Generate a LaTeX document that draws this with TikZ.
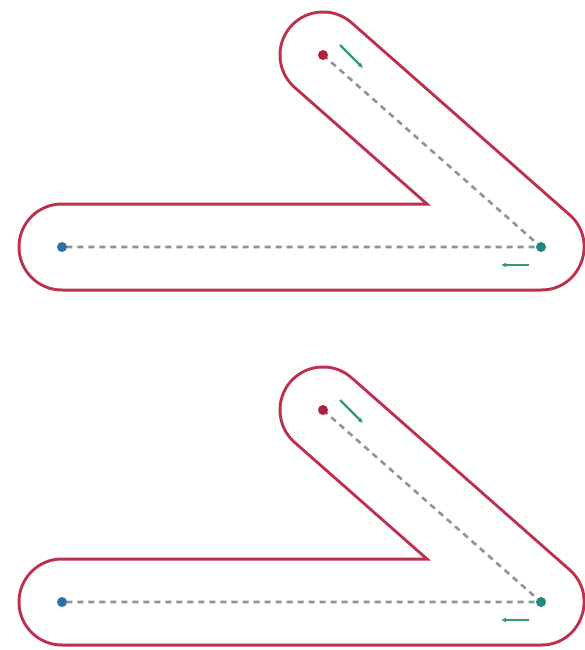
\documentclass[tikz,border=0pt]{standalone}
\usetikzlibrary{arrows.meta,calc}
\definecolor{rimred}{HTML}{BE2F4E}
\definecolor{trailgray}{HTML}{8C9399}
\definecolor{dotred}{HTML}{B3203F}
\definecolor{dotteal}{HTML}{1F8A7D}
\definecolor{dotblue}{HTML}{2F6EA8}
\definecolor{movegreen}{HTML}{2F9C6C}

\begin{document}
\begin{tikzpicture}[x=1pt,y=-1pt,>=Latex,
  rim/.style={line width=89pt,color=rimred,line cap=round,line join=round},
  hollow/.style={line width=83pt,color=white,line cap=round,line join=round},
  trail/.style={line width=2.6pt,color=trailgray,dash pattern=on 6pt off 5pt},
  dot/.style={circle,inner sep=0pt,minimum size=10pt},
  hint/.style={-{Latex[length=5pt,width=5pt]},line width=2.2pt,color=movegreen}]
  \useasboundingbox (0,0) rectangle (584,650);
  \foreach \dy/\id in {0/a,355/b}{
    \coordinate (\id-start) at (323,55+\dy);
    \coordinate (\id-bend) at (541,247+\dy);
    \coordinate (\id-end) at (62,247+\dy);
    % outline of the wide stroke
    \draw[rim] (\id-start) -- (\id-bend) -- (\id-end);
    \draw[hollow] (\id-start) -- (\id-bend) -- (\id-end);
    \draw[trail] (\id-start) -- (\id-bend) -- (\id-end);
    \node[dot,fill=dotred] (\id-s) at (\id-start) {};
    \node[dot,fill=dotteal] (\id-c) at (\id-bend) {};
    \node[dot,fill=dotblue] (\id-e) at (\id-end) {};
    % direction hints
    \coordinate (\id-h1) at ([shift={(17,-10)}]\id-start);
    \coordinate (\id-h2) at ([shift={(40,13)}]\id-start);
    \coordinate (\id-h3) at ([shift={(-12,18)}]\id-bend);
    \coordinate (\id-h4) at ([shift={(-40,18)}]\id-bend);
    \draw[hint] (\id-h1) -- (\id-h2);
    \draw[hint] (\id-h3) -- (\id-h4);
  }
\end{tikzpicture}
\end{document}
